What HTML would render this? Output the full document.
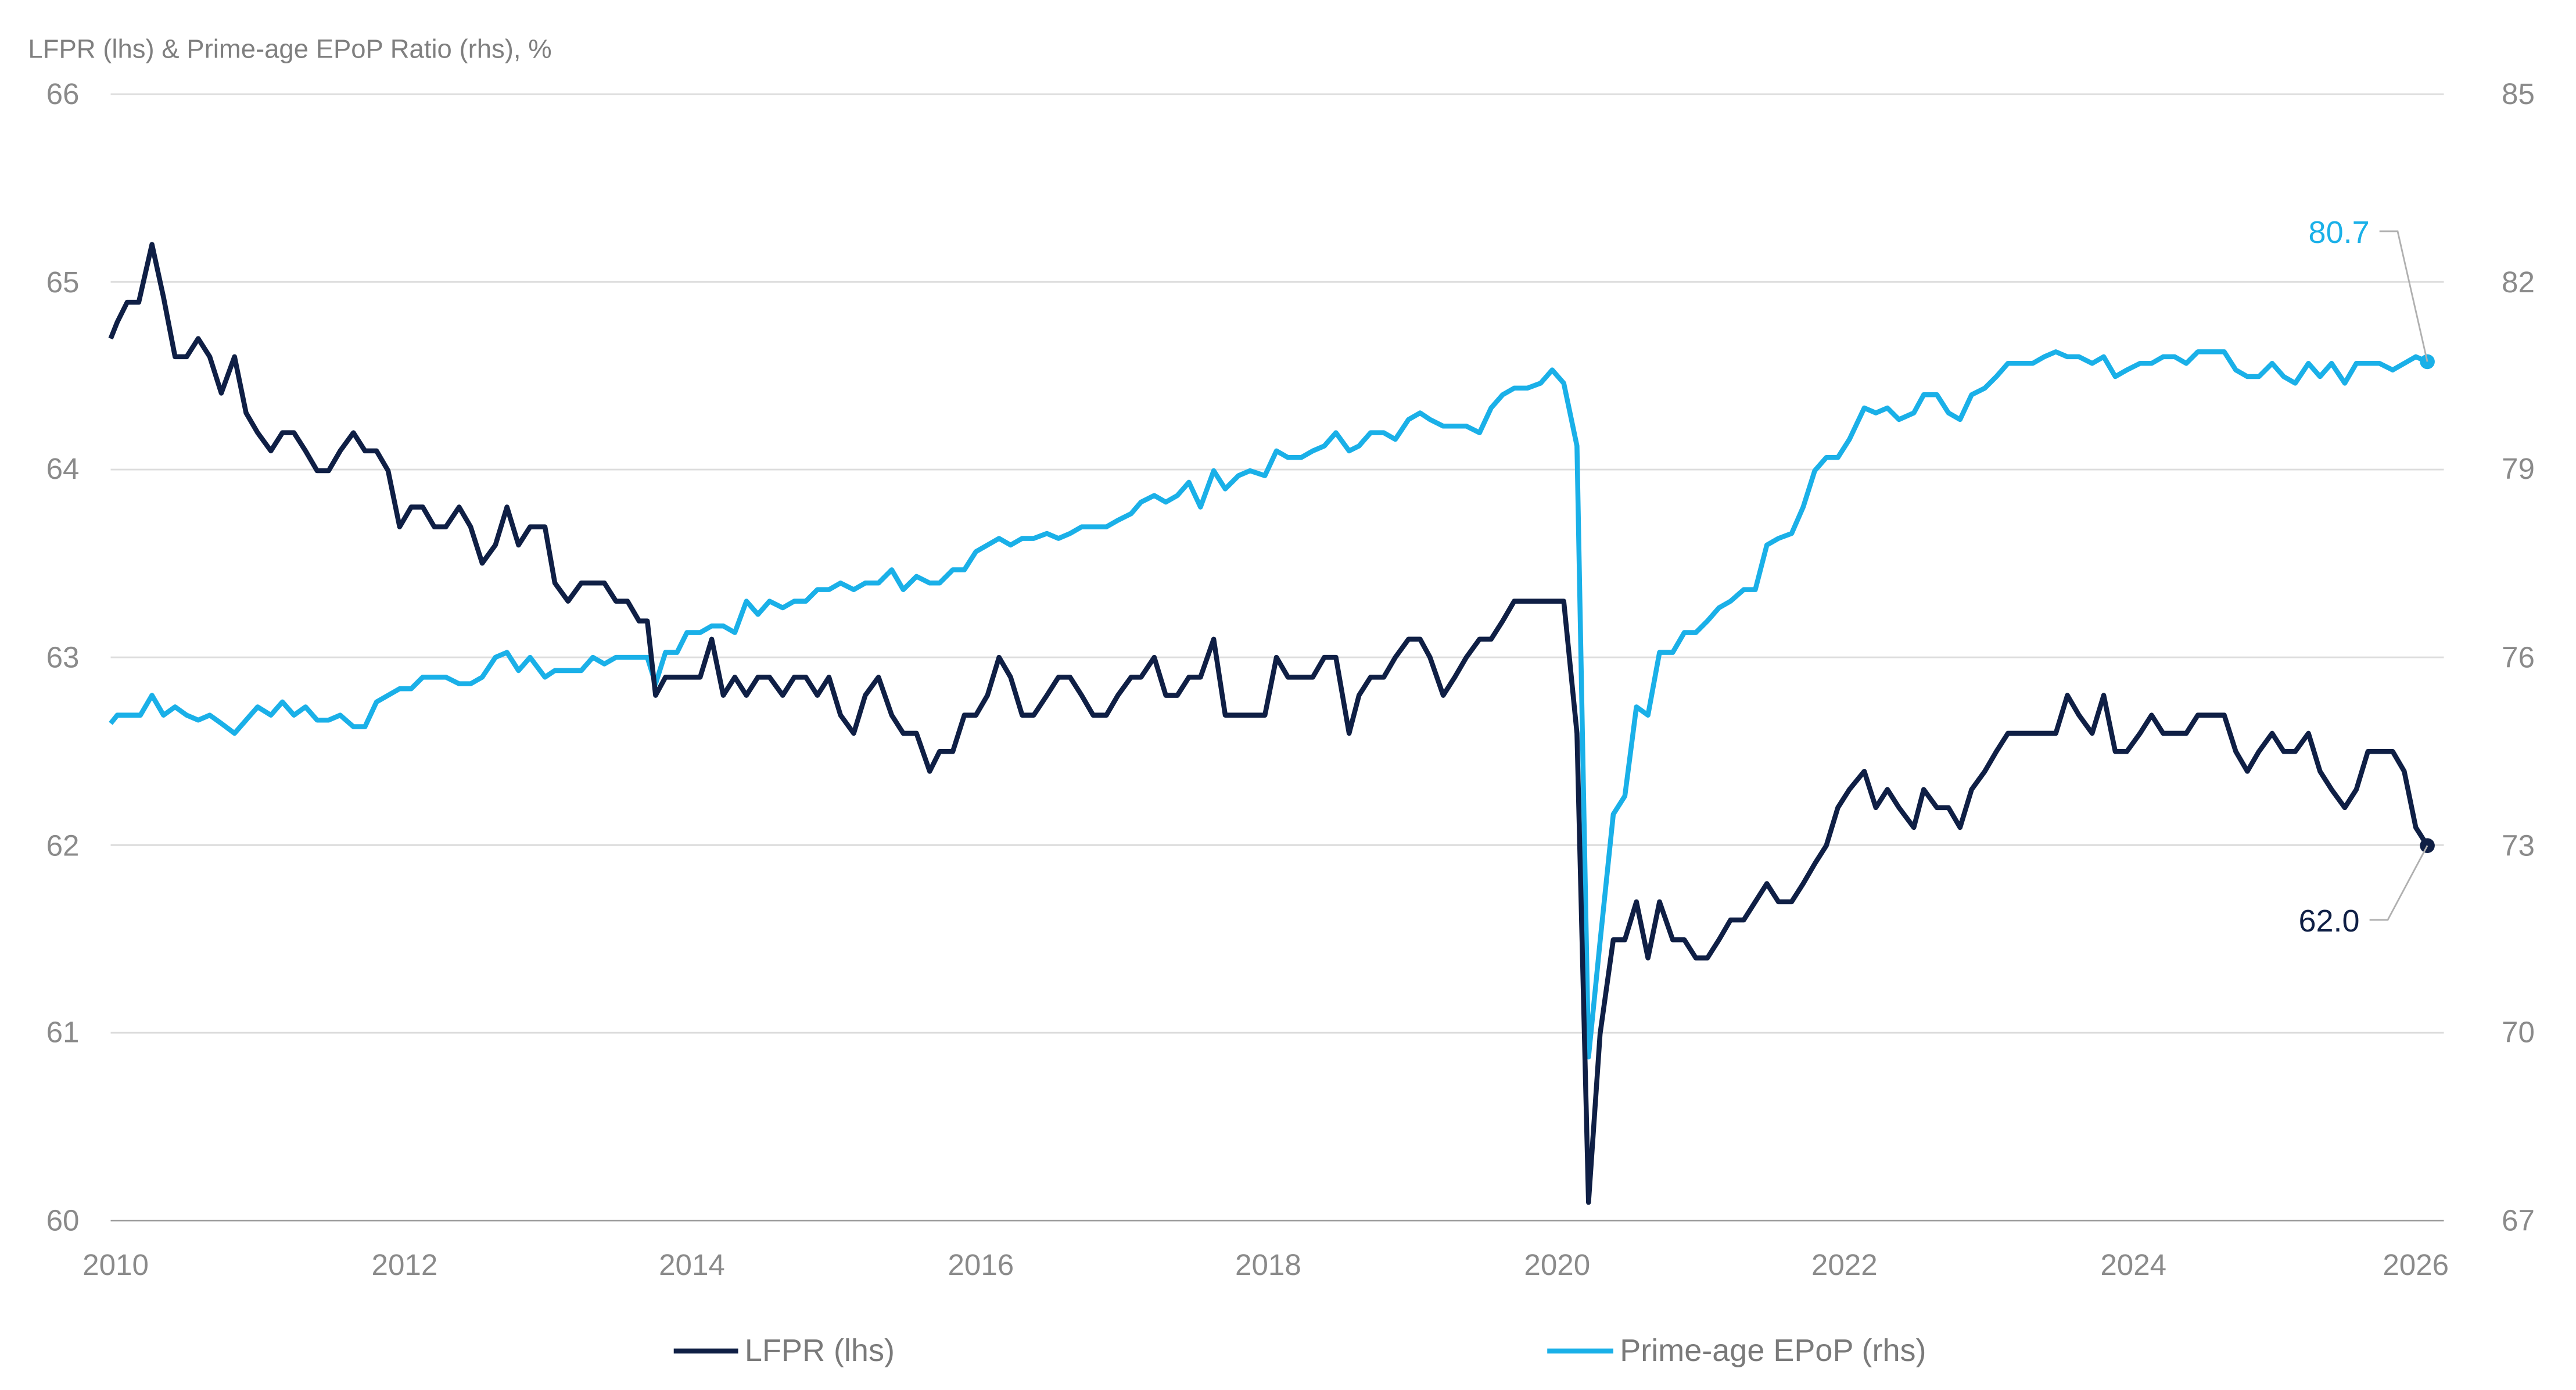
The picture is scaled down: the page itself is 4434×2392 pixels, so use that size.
<!DOCTYPE html>
<html><head><meta charset="utf-8"><style>html,body{margin:0;padding:0;background:#fff}svg{display:block}text{font-family:"Liberation Sans",sans-serif}</style></head><body>
<svg width="4434" height="2392" viewBox="0 0 1560 841.6" xmlns="http://www.w3.org/2000/svg">
<rect width="1560" height="841.6" fill="#fff"/>
<text x="17" y="35" font-size="16" fill="#7f7f7f">LFPR (lhs) &amp; Prime-age EPoP Ratio (rhs), %</text>
<g stroke="#dcdcdc" stroke-width="1">
<line x1="67" x2="1480" y1="57" y2="57"/><line x1="67" x2="1480" y1="170.7" y2="170.7"/><line x1="67" x2="1480" y1="284.3" y2="284.3"/><line x1="67" x2="1480" y1="398" y2="398"/><line x1="67" x2="1480" y1="511.7" y2="511.7"/><line x1="67" x2="1480" y1="625.3" y2="625.3"/>
</g>
<line x1="67" x2="1480" y1="739" y2="739" stroke="#999" stroke-width="1"/>
<g font-size="18" fill="#8a8a8a" text-anchor="end">
<text x="48" y="63">66</text><text x="48" y="177">65</text><text x="48" y="290">64</text><text x="48" y="404">63</text><text x="48" y="518">62</text><text x="48" y="631">61</text><text x="48" y="745">60</text>
</g>
<g font-size="18" fill="#8a8a8a">
<text x="1515" y="63">85</text><text x="1515" y="177">82</text><text x="1515" y="290">79</text><text x="1515" y="404">76</text><text x="1515" y="518">73</text><text x="1515" y="631">70</text><text x="1515" y="745">67</text>
</g>
<g font-size="18" fill="#8a8a8a" text-anchor="middle">
<text x="70" y="772">2010</text><text x="245" y="772">2012</text><text x="419" y="772">2014</text><text x="594" y="772">2016</text><text x="768" y="772">2018</text><text x="943" y="772">2020</text><text x="1117" y="772">2022</text><text x="1292" y="772">2024</text><text x="1463" y="772">2026</text>
</g>
<polyline fill="none" stroke="#1ab0e8" stroke-width="3" stroke-linejoin="round" points="67,438 71,433 78,433 85,433 92,421 99,433 106,428 113,433 120,436 127,433 134,438 142,444 149,436 156,428 164,433 171,425 178,433 185,428 192,436 199,436 206,433 214,440 221,440 228,425 235,421 242,417 249,417 256,410 263,410 270,410 278,414 285,414 292,410 300,398 307,395 314,406 321,398 330,410 336,406 344,406 352,406 359,398 366,402 373,398 380,398 387,398 392,398 397,414 403,395 410,395 416,383 424,383 431,379 438,379 445,383 452,364 459,372 466,364 474,368 481,364 488,364 495,357 502,357 509,353 517,357 524,353 532,353 540,345 547,357 555,349 563,353 569,353 577,345 584,345 591,334 598,330 605,326 612,330 619,326 626,326 634,323 641,326 648,323 655,319 662,319 670,319 677,315 685,311 691,304 699,300 706,304 713,300 720,292 727,307 735,285 742,296 750,288 757,285 766,288 773,273 780,277 788,277 795,273 802,270 809,262 817,273 823,270 830,262 838,262 845,266 853,254 860,250 866,254 874,258 881,258 888,258 896,262 903,247 910,239 917,235 925,235 933,232 940,224 947,232 955,270 962,640 969,570 977,493 984,482 991,428 998,433 1005,395 1013,395 1020,383 1027,383 1034,376 1041,368 1048,364 1056,357 1063,357 1070,330 1077,326 1085,323 1092,307 1099,285 1106,277 1113,277 1120,266 1129,247 1136,250 1143,247 1150,254 1159,250 1165,239 1173,239 1180,250 1187,254 1194,239 1202,235 1209,228 1216,220 1224,220 1231,220 1238,216 1245,213 1252,216 1259,216 1267,220 1274,216 1281,228 1288,224 1296,220 1303,220 1310,216 1317,216 1324,220 1331,213 1338,213 1347,213 1354,224 1361,228 1368,228 1376,220 1383,228 1390,232 1398,220 1405,228 1412,220 1420,232 1427,220 1434,220 1441,220 1449,224 1456,220 1463,216 1470,219"/>
<polyline fill="none" stroke="#0f1f45" stroke-width="3" stroke-linejoin="round" points="67,205 71,195 77,183 84,183 92,148 99,180 106,216 113,216 120,205 127,216 134,238 142,216 149,250 156,262 164,273 171,262 178,262 185,273 192,285 199,285 206,273 214,262 221,273 228,273 235,285 242,319 249,307 256,307 263,319 270,319 278,307 285,319 292,341 300,330 307,307 314,330 321,319 330,319 336,353 344,364 352,353 359,353 366,353 373,364 380,364 387,376 392,376 397,421 403,410 410,410 416,410 424,410 431,387 438,421 445,410 452,421 459,410 466,410 474,421 481,410 488,410 495,421 502,410 509,433 517,444 524,421 532,410 540,433 547,444 555,444 563,467 569,455 577,455 584,433 591,433 598,421 605,398 612,410 619,433 626,433 634,421 641,410 648,410 655,421 662,433 670,433 677,421 685,410 691,410 699,398 706,421 713,421 720,410 727,410 735,387 742,433 750,433 757,433 766,433 773,398 780,410 788,410 795,410 802,398 809,398 817,444 823,421 830,410 838,410 845,398 853,387 860,387 866,398 874,421 881,410 888,398 896,387 903,387 910,376 917,364 925,364 933,364 940,364 947,364 955,444 962,728 969,626 977,569 984,569 991,546 998,580 1005,546 1013,569 1020,569 1027,580 1034,580 1041,569 1048,557 1056,557 1063,546 1070,535 1077,546 1085,546 1092,535 1099,523 1106,512 1113,489 1120,478 1129,467 1136,489 1143,478 1150,489 1159,501 1165,478 1173,489 1180,489 1187,501 1194,478 1202,467 1209,455 1216,444 1224,444 1231,444 1238,444 1245,444 1252,421 1259,433 1267,444 1274,421 1281,455 1288,455 1296,444 1303,433 1310,444 1317,444 1324,444 1331,433 1338,433 1347,433 1354,455 1361,467 1368,455 1376,444 1383,455 1390,455 1398,444 1405,467 1412,478 1420,489 1427,478 1434,455 1441,455 1449,455 1456,467 1463,501 1470,512"/>
<circle cx="1470" cy="219" r="4.5" fill="#1ab0e8"/>
<circle cx="1470" cy="512" r="4.5" fill="#0f1f45"/>
<polyline fill="none" stroke="#b0b0b0" stroke-width="1" points="1441,140 1452,140 1470,219"/>
<polyline fill="none" stroke="#b0b0b0" stroke-width="1" points="1435,557 1446,557 1470,512"/>
<text x="1435" y="147" font-size="19" fill="#1ab0e8" text-anchor="end">80.7</text>
<text x="1429" y="564" font-size="19" fill="#0f1f45" text-anchor="end">62.0</text>
<line x1="408" x2="447" y1="818" y2="818" stroke="#0f1f45" stroke-width="3"/>
<text x="451" y="824" font-size="19" fill="#7a7a7a">LFPR (lhs)</text>
<line x1="937" x2="977" y1="818" y2="818" stroke="#1ab0e8" stroke-width="3"/>
<text x="981" y="824" font-size="19" fill="#7a7a7a">Prime-age EPoP (rhs)</text>
</svg>
</body></html>
